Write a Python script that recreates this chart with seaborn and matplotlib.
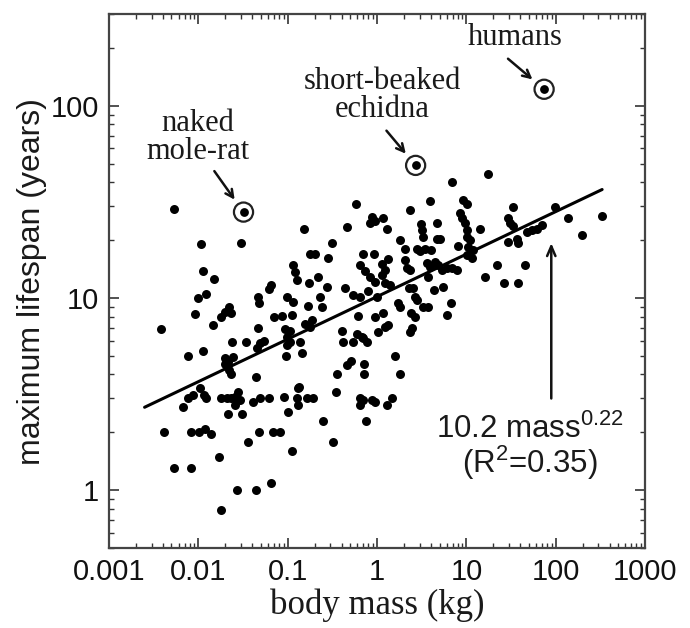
import numpy as np
import pandas as pd
import seaborn as sns
import matplotlib.pyplot as plt
from matplotlib.ticker import FuncFormatter, NullFormatter, FixedLocator

# body mass (kg) and maximum lifespan (years)
mass = [
    0.0054, 0.0107, 0.030, 0.0113, 0.015, 0.0099, 0.0122, 0.0092, 0.020, 0.022,
    0.023, 0.018, 0.0146, 0.0038, 0.065, 0.062, 0.047, 0.048, 0.047, 0.070,
    0.086, 0.112, 0.098, 0.115, 0.093, 0.106, 0.024, 0.034, 0.049, 0.054,
    0.045, 0.098, 0.106, 0.098, 0.0077, 0.0113, 0.020, 0.0215, 0.0244, 0.020,
    0.023, 0.022, 0.096, 0.044, 0.0077, 0.0087, 0.0067, 0.0104, 0.0116, 0.0122,
    0.018, 0.021, 0.023, 0.0257, 0.028, 0.029, 0.0257, 0.041, 0.049, 0.062,
    0.091, 0.127, 0.13, 0.0215, 0.031, 0.10, 0.13, 0.0041, 0.0083, 0.0102,
    0.0119, 0.0138, 0.048, 0.0685, 0.082, 0.036, 0.112, 0.017, 0.0054, 0.0083,
    0.027, 0.044, 0.065, 0.018,
    6.93, 0.58, 3.9, 2.34, 0.88, 0.95, 1.17, 0.84, 0.46, 1.29,
    0.152, 3.11, 3.19, 3.28, 4.7, 9.2, 10.2, 8.5, 9.0, 9.7,
    10.2, 10.2, 11.0, 0.31, 1.81, 4.7, 5.08, 8.1, 2.06, 2.8,
    3.03, 3.45, 4.03, 0.178, 0.20, 0.28, 0.70, 0.93, 2.06, 2.17,
    2.34, 1.33, 1.14, 1.23, 0.645, 0.735, 3.63, 3.93, 4.47, 4.83,
    5.35, 6.09, 6.93, 7.88, 3.73, 0.84, 0.95, 1.14, 1.23, 1.40,
    0.115, 0.121, 0.127, 0.22, 0.173, 0.275, 0.44, 0.54, 0.645, 0.79,
    1.0, 2.28, 2.53, 4.35, 5.49, 0.23, 0.24, 0.169, 2.67, 2.8,
    1.72, 1.81, 3.28, 3.73, 6.75, 0.61, 0.95, 1.17, 2.4, 2.67,
    6.09, 0.187, 0.156, 0.178, 0.41, 1.03, 1.23, 1.33, 2.47, 2.34,
    0.60, 0.68, 26.4, 37.9, 1.59, 1.81,
    17.5, 33.3, 98.5, 29.3, 30.9, 33.3, 138, 331, 14.2, 47.8,
    54.5, 62, 70.5, 37, 37.9, 29.3, 198, 10.4, 11.9, 10.2,
    11.6, 22.1, 45.4, 16.2,
    0.137, 0.145, 0.416, 0.54, 0.70, 0.775, 0.46, 0.51, 0.716, 0.357,
    0.716, 0.134, 0.348, 0.164, 0.192, 0.645, 0.645, 0.70, 0.88, 0.95,
    1.29, 1.47, 0.249, 0.75, 0.32,
]
lifespan = [
    29, 19, 19.3, 13.8, 12.5, 10, 10.5, 8.3, 8.5, 9,
    8.4, 8, 7.2, 6.9, 11.7, 11.1, 10.1, 9.4, 7.0, 8.0,
    8.1, 8.2, 10.1, 9.5, 6.9, 6.7, 5.9, 5.9, 5.85, 6.0,
    5.5, 6.3, 5.9, 5.7, 5, 5.3, 4.9, 4.66, 4.94, 4.55,
    4, 4.24, 5, 3.9, 3, 3.14, 2.7, 3.4, 3.14, 3,
    3, 3, 3, 3.07, 3.26, 2.96, 2.79, 2.89, 3, 3,
    3.07, 3.03, 2.79, 2.5, 2.5, 2.56, 3.42, 2, 2, 2,
    2.07, 1.97, 2, 2, 2, 1.79, 1.59, 1.48, 1.3, 1.3,
    1.0, 1.0, 1.09, 0.79,
    40, 31, 31.8, 28.6, 26.3, 25.3, 26, 24.7, 23.3, 22.8,
    22.8, 24.2, 22.5, 20.7, 24.7, 32.2, 30.7, 27.6, 26, 24.5,
    22.5, 20.7, 20, 19.3, 20, 20.2, 20.2, 18.6, 17.9, 17.9,
    17.5, 17.9, 17.7, 16.9, 16.9, 16.1, 16.9, 16.9, 15.7, 14.3,
    14.0, 15.9, 15, 14, 14.8, 13.8, 15.2, 14.5, 15.4, 14.8,
    14.0, 14.3, 14.3, 14.0, 12.8, 12.8, 12.1, 13.2, 12, 11.7,
    14.8, 13.6, 12.4, 12.8, 12, 11.4, 11.3, 10.4, 10.1, 10.9,
    10.1, 11.3, 11.3, 11, 11.4, 10.1, 9, 9.1, 10.1, 9.76,
    9.4, 9, 9, 9, 9.4, 8.06, 7.96, 8.36, 8.36, 7.96,
    8.16, 7.7, 7.3, 7.07, 6.74, 6.66, 7.07, 7.24, 7.0, 6.66,
    6.5, 6.3, 12, 12, 5, 4,
    44.4, 29.6, 29.6, 26, 24.7, 23.6, 26, 26.6, 22.8, 22,
    22.5, 23, 23.9, 20.4, 19.3, 19.6, 21.4, 18.4, 17.7, 16.7,
    16.1, 14.8, 14.8, 12.8,
    5.9, 5.2, 5.9, 5.9, 6.2, 5.9, 4.5, 4.7, 4.55, 4,
    4, 3.46, 3.26, 3, 3, 3.03, 2.79, 2.96, 2.96, 2.86,
    2.79, 3.0, 2.28, 2.28, 1.79,
]

# highlighted species
hl_names = ["naked\nmole-rat", "short-beaked\nechidna", "humans"]
hl_mass = [0.032, 2.7, 74]
hl_life = [28, 49, 122]

# fitted power law 10.2 mass^0.22, end points of the drawn line
fit_mass = [0.0025, 330]
fit_life = [2.7, 36.7]

x_ticks = [0.001, 0.01, 0.1, 1, 10, 100, 1000]
y_ticks = [1, 10, 100]

sns.set_style("ticks")
plt.rcParams['font.family'] = ['Liberation Sans', 'DejaVu Sans']
plt.rcParams['mathtext.fontset'] = 'custom'
plt.rcParams['mathtext.rm'] = 'Liberation Sans'
plt.rcParams['mathtext.it'] = 'Liberation Sans:italic'

fig = plt.figure(figsize=(6.9, 6.28), dpi=100)
ax = fig.add_axes([0.158, 0.1274, 0.777, 0.850])

df = pd.DataFrame({"mass": mass, "lifespan": lifespan})
sns.scatterplot(data=df, x="mass", y="lifespan", color="black", s=42,
                linewidth=0, ax=ax, zorder=3)
sns.lineplot(x=fit_mass, y=fit_life, color="black", lw=2.2, ax=ax, zorder=2)

# circled points
ax.scatter(hl_mass, hl_life, s=190, facecolors="none", edgecolors="#222222",
           linewidths=1.6, zorder=4)
ax.scatter(hl_mass, hl_life, s=40, color="black", linewidths=0, zorder=4)

ax.set_xscale("log")
ax.set_yscale("log")
ax.set_xlim(0.001, 1000)
ax.set_ylim(0.5, 300)

label_off = [(-33, 54), (-24, 50), (-21, 37)]
arrow_tail = [(-21, 29.5), (-21, 25), (-26, 22)]
arr = dict(arrowstyle="->,head_length=0.55,head_width=0.28", lw=1.8,
           color="#111111", shrinkA=0, shrinkB=11)
for name, m, l, lo, at in zip(hl_names, hl_mass, hl_life, label_off, arrow_tail):
    ax.annotate(name, xy=(m, l), xytext=lo, textcoords="offset points",
                ha="center", va="center", fontsize=22, linespacing=0.95,
                family="Liberation Serif", color="#1a1a1a")
    ax.annotate("", xy=(m, l), xytext=at, textcoords="offset points",
                arrowprops=arr)

# arrow and label for the fit
ax.annotate("", xy=(89, 19.3), xytext=(89, 3.0),
            arrowprops=dict(arrowstyle="->,head_length=0.7,head_width=0.3",
                            lw=1.8, color="#111111", shrinkA=0, shrinkB=0))
ax.text(52, 2.08, r"10.2 mass$^{\mathregular{0.22}}$", ha="center", va="center",
        fontsize=22.5, color="#1a1a1a")
ax.text(52, 1.38, r"(R$^{\mathregular{2}}$=0.35)", ha="center", va="center",
        fontsize=22.5, color="#1a1a1a")

fmt = FuncFormatter(lambda v, _: f"{v:g}")
ax.xaxis.set_major_locator(FixedLocator(x_ticks))
ax.yaxis.set_major_locator(FixedLocator(y_ticks))
ax.xaxis.set_major_formatter(fmt)
ax.yaxis.set_major_formatter(fmt)
ax.xaxis.set_minor_formatter(NullFormatter())
ax.yaxis.set_minor_formatter(NullFormatter())
ax.tick_params(which="both", direction="in", top=True, right=True,
               labelsize=21, colors="#333333", labelcolor="#111111")
ax.tick_params(which="major", length=7, width=1.2, pad=7)
ax.tick_params(which="minor", length=3.5, width=1.0)
for sp in ax.spines.values():
    sp.set_linewidth(1.6)
    sp.set_color("#444444")

ax.set_xlabel("body mass (kg)", fontsize=25, family="Liberation Serif",
              color="#1a1a1a", labelpad=2)
ax.set_ylabel("maximum lifespan (years)", fontsize=23, color="#1a1a1a",
              labelpad=3)

fig.savefig("out.png", dpi=100)
